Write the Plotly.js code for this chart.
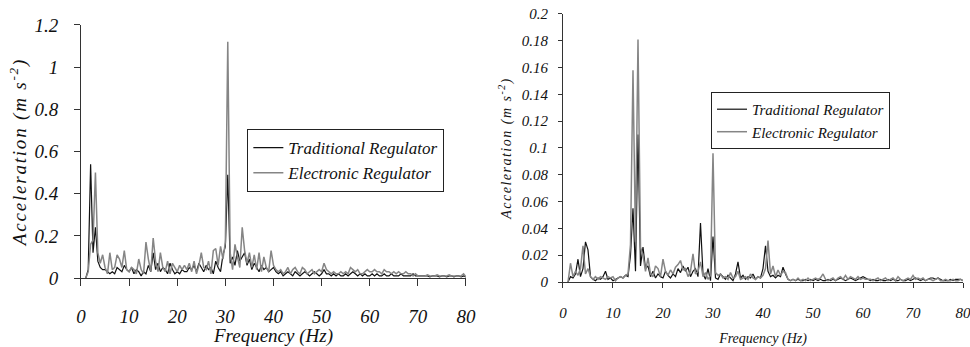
<!DOCTYPE html>
<html>
<head>
<meta charset="utf-8">
<script src="https://cdn.plot.ly/plotly-3.0.1.min.js"></script>
<style>
  html, body { margin: 0; padding: 0; background: #fff; overflow: hidden; }
  #chart { width: 970px; height: 347px; }
  #chart text { font-family: "Liberation Serif", "Times New Roman", Times, serif !important; }
</style>
</head>
<body>
<div id="chart"></div>
<script>
// Frequency grid (Hz)
const freq = [
  1,1.5,2,2.5,3,3.5,4,4.5,5,5.5,6,6.5,7,7.5,8,8.5,9,9.5,10,10.5,
  11,11.5,12,12.5,13,13.5,14,14.5,15,15.5,16,16.5,17,17.5,18,18.5,19,19.5,20,20.5,
  21,21.5,22,22.5,23,23.5,24,24.5,25,25.5,26,26.5,27,27.5,28,28.5,29,29.5,30,30.5,
  31,31.5,32,32.5,33,33.5,34,34.5,35,35.5,36,36.5,37,37.5,38,38.5,39,39.5,40,40.5,
  41,41.5,42,42.5,43,43.5,44,44.5,45,45.5,46,46.5,47,47.5,48,48.5,49,49.5,50,50.5,
  51,51.5,52,52.5,53,53.5,54,54.5,55,55.5,56,56.5,57,57.5,58,58.5,59,59.5,60,60.5,
  61,61.5,62,62.5,63,63.5,64,64.5,65,65.5,66,66.5,67,67.5,68,68.5,69,69.5,70,70.5,
  71,71.5,72,72.5,73,73.5,74,74.5,75,75.5,76,76.5,77,77.5,78,78.5,79,79.5,80
];

const seriesNames = ["Traditional Regulator", "Electronic Regulator"];

// Left chart (m s^-2)
const leftTraditional = [
  0.00,0.04,0.54,0.12,0.24,0.08,0.05,0.04,0.04,0.03,0.02,0.03,0.02,0.05,0.04,0.03,0.06,0.04,0.03,0.05,
  0.02,0.04,0.03,0.01,0.03,0.02,0.06,0.03,0.12,0.04,0.07,0.03,0.05,0.04,0.02,0.07,0.04,0.02,0.03,0.02,
  0.04,0.03,0.03,0.05,0.04,0.06,0.03,0.07,0.05,0.03,0.06,0.04,0.05,0.02,0.08,0.05,0.03,0.11,0.15,0.49,
  0.07,0.10,0.06,0.13,0.08,0.10,0.12,0.06,0.09,0.04,0.07,0.05,0.03,0.06,0.04,0.05,0.03,0.04,0.05,0.03,
  0.02,0.03,0.01,0.02,0.03,0.02,0.01,0.03,0.02,0.01,0.02,0.03,0.02,0.01,0.02,0.03,0.02,0.01,0.02,0.04,
  0.02,0.02,0.01,0.02,0.01,0.02,0.01,0.01,0.02,0.01,0.02,0.03,0.02,0.01,0.02,0.01,0.02,0.01,0.01,0.02,
  0.01,0.02,0.01,0.01,0.02,0.01,0.01,0.02,0.01,0.01,0.01,0.02,0.01,0.01,0.01,0.01,0.02,0.01,0.01,0.01,
  0.01,0.01,0.01,0.005,0.01,0.01,0.01,0.005,0.01,0.01,0.005,0.01,0.01,0.005,0.01,0.01,0.005,0.01,0.005
];
const leftElectronic = [
  0.00,0.03,0.16,0.18,0.50,0.12,0.07,0.11,0.05,0.02,0.12,0.04,0.05,0.11,0.09,0.05,0.13,0.04,0.03,0.05,
  0.04,0.02,0.09,0.04,0.02,0.17,0.09,0.03,0.19,0.08,0.03,0.12,0.05,0.03,0.08,0.02,0.07,0.05,0.03,0.06,
  0.04,0.06,0.04,0.07,0.03,0.08,0.02,0.06,0.12,0.05,0.04,0.08,0.02,0.13,0.14,0.06,0.15,0.09,0.17,1.12,
  0.12,0.04,0.16,0.10,0.05,0.24,0.13,0.07,0.12,0.05,0.11,0.04,0.12,0.03,0.10,0.05,0.03,0.13,0.06,0.04,
  0.03,0.04,0.02,0.03,0.05,0.02,0.04,0.05,0.03,0.02,0.05,0.04,0.02,0.03,0.04,0.02,0.03,0.04,0.03,0.07,
  0.04,0.03,0.02,0.03,0.02,0.02,0.03,0.02,0.03,0.02,0.05,0.04,0.03,0.04,0.02,0.02,0.03,0.04,0.03,0.03,
  0.04,0.03,0.03,0.02,0.04,0.03,0.03,0.02,0.03,0.02,0.03,0.02,0.02,0.03,0.02,0.02,0.01,0.02,0.01,0.01,
  0.01,0.01,0.015,0.01,0.01,0.01,0.015,0.01,0.01,0.01,0.01,0.015,0.01,0.01,0.01,0.01,0.01,0.02,0.005
];

// Right chart (m s^-2)
const rightTraditional = [
  0.000,0.004,0.003,0.006,0.017,0.004,0.010,0.030,0.024,0.004,0.002,0.001,0.003,0.002,0.004,0.008,0.002,0.003,0.001,0.002,
  0.003,0.004,0.003,0.005,0.004,0.020,0.055,0.008,0.110,0.012,0.026,0.010,0.012,0.004,0.008,0.003,0.006,0.004,0.003,0.008,
  0.005,0.003,0.006,0.004,0.010,0.007,0.012,0.008,0.011,0.004,0.008,0.010,0.004,0.044,0.006,0.002,0.010,0.001,0.034,0.003,
  0.002,0.006,0.004,0.002,0.005,0.003,0.001,0.006,0.015,0.003,0.005,0.002,0.004,0.003,0.006,0.002,0.004,0.003,0.010,0.027,
  0.008,0.004,0.005,0.003,0.005,0.004,0.011,0.006,0.002,0.001,0.002,0.001,0.002,0.001,0.001,0.002,0.001,0.002,0.001,0.002,
  0.001,0.002,0.001,0.001,0.002,0.001,0.002,0.001,0.002,0.003,0.002,0.001,0.002,0.003,0.002,0.001,0.002,0.003,0.004,0.003,
  0.002,0.001,0.002,0.001,0.001,0.002,0.001,0.001,0.002,0.001,0.002,0.001,0.001,0.002,0.001,0.001,0.002,0.001,0.002,0.003,
  0.002,0.001,0.002,0.001,0.002,0.003,0.003,0.002,0.003,0.002,0.001,0.001,0.001,0.002,0.001,0.002,0.002,0.002,0.001
];
const rightElectronic = [
  0.000,0.014,0.004,0.008,0.005,0.010,0.027,0.006,0.010,0.004,0.002,0.004,0.002,0.004,0.003,0.002,0.004,0.003,0.004,0.001,
  0.003,0.004,0.003,0.005,0.006,0.028,0.158,0.030,0.181,0.026,0.020,0.008,0.018,0.006,0.004,0.012,0.010,0.004,0.017,0.008,
  0.005,0.009,0.006,0.011,0.013,0.016,0.009,0.010,0.004,0.008,0.021,0.006,0.008,0.015,0.004,0.007,0.002,0.005,0.096,0.007,
  0.005,0.006,0.003,0.004,0.002,0.007,0.003,0.004,0.008,0.002,0.003,0.004,0.002,0.006,0.003,0.002,0.004,0.003,0.005,0.010,
  0.031,0.006,0.012,0.004,0.009,0.005,0.008,0.007,0.002,0.001,0.002,0.001,0.003,0.001,0.002,0.001,0.003,0.001,0.002,0.003,
  0.002,0.003,0.006,0.002,0.001,0.002,0.003,0.001,0.003,0.004,0.002,0.005,0.002,0.004,0.003,0.002,0.004,0.002,0.003,0.002,
  0.002,0.002,0.001,0.002,0.003,0.001,0.002,0.003,0.001,0.002,0.003,0.001,0.004,0.002,0.001,0.002,0.003,0.002,0.005,0.002,
  0.003,0.002,0.003,0.001,0.002,0.002,0.001,0.002,0.003,0.001,0.001,0.002,0.001,0.001,0.002,0.001,0.001,0.002,0.001
];

const FONT = "Liberation Serif, Times New Roman, serif";
const BLACK = "#111111";
const GRAY = "#858585";

const traces = [
  { x: freq, y: leftTraditional, name: seriesNames[0], type: "scatter", mode: "lines",
    line: { color: BLACK, width: 1.2 }, xaxis: "x", yaxis: "y", legend: "legend" },
  { x: freq, y: leftElectronic, name: seriesNames[1], type: "scatter", mode: "lines",
    line: { color: GRAY, width: 1.5 }, xaxis: "x", yaxis: "y", legend: "legend" },
  { x: freq, y: rightTraditional, name: seriesNames[0], type: "scatter", mode: "lines",
    line: { color: BLACK, width: 1.2 }, xaxis: "x2", yaxis: "y2", legend: "legend2" },
  { x: freq, y: rightElectronic, name: seriesNames[1], type: "scatter", mode: "lines",
    line: { color: GRAY, width: 1.5 }, xaxis: "x2", yaxis: "y2", legend: "legend2" }
];

function axisBase(size) {
  return {
    showgrid: false, zeroline: false, showline: true, linecolor: "#333", linewidth: 1,
    ticks: "outside", tickcolor: "#333", tickwidth: 1, ticklabeloverflow: "allow",
    tickfont: { family: FONT, size: size, style: "italic", color: "#111" }
  };
}

const layout = {
  width: 970, height: 347,
  margin: { l: 0, r: 0, t: 0, b: 0 },
  paper_bgcolor: "#fff", plot_bgcolor: "#fff",
  font: { family: FONT, style: "italic", color: "#111" },
  xaxis: Object.assign(axisBase(19), {
    domain: [0.0835, 0.4804], range: [0, 80], dtick: 10, tick0: 0, ticklen: 7,
    ticklabelstandoff: 14, anchor: "y",
    title: { text: "Frequency (Hz)", font: { family: FONT, size: 19, style: "italic" }, standoff: 14 }
  }),
  yaxis: Object.assign(axisBase(19), {
    domain: [0.1988, 0.928], range: [0, 1.2], dtick: 0.2, tick0: 0, ticklen: 6,
    ticklabelstandoff: 12, anchor: "x",
    title: { text: "Acceleration (m s<sup>-2</sup>)", font: { family: FONT, size: 19, style: "italic" }, standoff: 2 }
  }),
  xaxis2: Object.assign(axisBase(15), {
    domain: [0.5804, 0.9928], range: [0, 80], dtick: 10, tick0: 0, ticklen: 5,
    ticklabelstandoff: 12, anchor: "y2",
    title: { text: "Frequency (Hz)", font: { family: FONT, size: 14, style: "italic" }, standoff: 18 }
  }),
  yaxis2: Object.assign(axisBase(15), {
    domain: [0.1873, 0.9597], range: [0, 0.2], dtick: 0.02, tick0: 0, ticklen: 4,
    ticklabelstandoff: 7, anchor: "x2",
    title: { text: "Acceleration (m s<sup>-2</sup>)", font: { family: FONT, size: 14, style: "italic" }, standoff: 6 }
  }),
  showlegend: true,
  legend: {
    x: 0.255, y: 0.628, xanchor: "left", yanchor: "top",
    bgcolor: "#fff", bordercolor: "#222", borderwidth: 1,
    font: { family: FONT, size: 17, style: "italic", color: "#111" },
    itemwidth: 30, tracegroupgap: 0
  },
  legend2: {
    x: 0.733, y: 0.735, xanchor: "left", yanchor: "top",
    bgcolor: "#fff", bordercolor: "#222", borderwidth: 1,
    font: { family: FONT, size: 15, style: "italic", color: "#111" },
    itemwidth: 30, tracegroupgap: 0
  }
};

Plotly.newPlot("chart", traces, layout, { staticPlot: true, displayModeBar: false }).then(function () {
  document.querySelectorAll(".g-ytitle text").forEach(function (t) { t.style.letterSpacing = "1.8px"; });
  document.querySelectorAll(".g-y2title text").forEach(function (t) { t.style.letterSpacing = "1.5px"; });
});
</script>
</body>
</html>
